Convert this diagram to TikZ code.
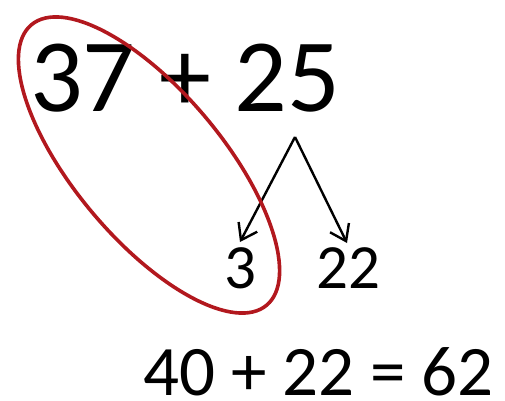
\documentclass[tikz,border=0pt]{standalone}
\usepackage{fontspec}
\setmainfont{Carlito}
\usetikzlibrary{arrows.meta}
\definecolor{ringred}{RGB}{178,24,30}
\tikzset{
  numtext/.style={inner sep=0pt, anchor=base, text=black},
  branch/.style={draw=black, line width=2.4pt, -{Straight Barb[length=15pt,width=21pt]}},
  ring/.style={draw=ringred, line width=3.6pt}
}
\begin{document}
\begin{tikzpicture}[x=1pt,y=1pt]
\useasboundingbox (0,0) rectangle (505,400);
\node[numtext, font=\fontsize{104}{104}\selectfont] (sum) at (185,289) {37 + 25};
\node[numtext, font=\fontsize{63}{63}\selectfont] (three) at (240,112) {3};
\node[numtext, font=\fontsize{63}{63}\selectfont] (twentytwo) at (348,112) {22};
\node[numtext, font=\fontsize{71}{71}\selectfont] (result) at (318.5,5) {40 + 22 = 62};
\coordinate (apex) at (295,263);
\coordinate (tipL) at (240,158);
\coordinate (tipR) at (347,157);
\draw[branch] (apex) -- (tipL);
\draw[branch] (apex) -- (tipR);
\draw[ring] (149,235) ellipse[x radius=183pt, y radius=74pt, rotate=-50];
\end{tikzpicture}
\end{document}
